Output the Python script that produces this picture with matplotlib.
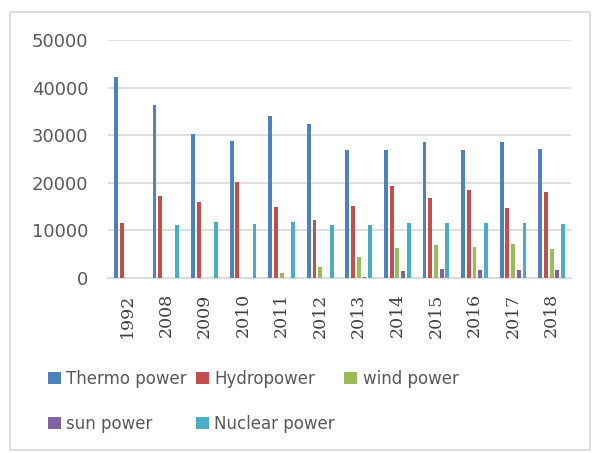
import matplotlib
matplotlib.use("Agg")
import matplotlib.pyplot as plt
import matplotlib.patches as patches
import numpy as np

years = ["1992", "2008", "2009", "2010", "2011", "2012", "2013", "2014",
         "2015", "2016", "2017", "2018"]
thermo = [42300, 36300, 30300, 28700, 34100, 32400, 26900, 26900, 28600, 26900, 28600, 27100]
hydro = [11600, 17200, 15900, 20100, 15000, 12100, 15200, 19300, 16900, 18400, 14800, 18000]
wind = [0, 0, 0, 0, 1000, 2300, 4400, 6300, 7000, 6600, 7200, 6100]
sun = [0, 0, 0, 0, 0, 0, 200, 1500, 1900, 1700, 1700, 1700]
nuclear = [0, 11200, 11700, 11400, 11700, 11200, 11200, 11600, 11600, 11600, 11600, 11300]

series = [
    ("Thermo power", thermo, "#4F81BD"),
    ("Hydropower", hydro, "#C0504D"),
    ("wind power", wind, "#9BBB59"),
    ("sun power", sun, "#8064A2"),
    ("Nuclear power", nuclear, "#4BACC6"),
]

W, H = 597, 453
fig = plt.figure(figsize=(W / 100, H / 100), dpi=100)
ax = fig.add_axes([108 / W, 1 - 278 / H, (571 - 108) / W, (278 - 40) / H])

x = np.arange(len(years))
step = 0.148
bars = []
for i, (name, vals, col) in enumerate(series):
    bars.append(ax.bar(x + (i - 2) * step, vals, width=0.1, color=col,
                       label=name, zorder=3))

ax.set_xlim(-0.5, len(years) - 0.5)
ax.set_ylim(0, 50000)
ax.set_yticks(range(0, 50001, 10000))
ax.yaxis.grid(True, color="#D9D9D9", linewidth=1.2, zorder=0)
for s in ["top", "right", "left"]:
    ax.spines[s].set_visible(False)
ax.spines["bottom"].set_color("#D9D9D9")
ax.spines["bottom"].set_linewidth(1.2)
ax.tick_params(axis="both", length=0)
ax.tick_params(axis="y", pad=14, labelsize=13, labelcolor="#595959")
ax.set_xticks(x)
ax.set_xticklabels(years, rotation=90, family="DejaVu Serif", fontsize=12.5,
                   color="#404040")
ax.tick_params(axis="x", pad=11)

# legend fills column-wise, so reorder to get row-wise layout
order = [0, 3, 1, 4, 2]
fig.legend([bars[i] for i in order], [series[i][0] for i in order],
           loc="upper left", bbox_to_anchor=(48 / W, 1 - 370 / H), ncol=3,
           frameon=False, fontsize=12, handlelength=0.75, handleheight=0.75,
           handletextpad=0.35, columnspacing=0.55, labelspacing=1.6,
           borderpad=0, borderaxespad=0, labelcolor="#595959")

fig.patches.append(patches.Rectangle((10 / W, 1 - 450 / H), 580 / W, 438 / H,
                                     transform=fig.transFigure, fill=False,
                                     edgecolor="#D9D9D9", linewidth=1.2))

fig.savefig("out.png", dpi=100)
